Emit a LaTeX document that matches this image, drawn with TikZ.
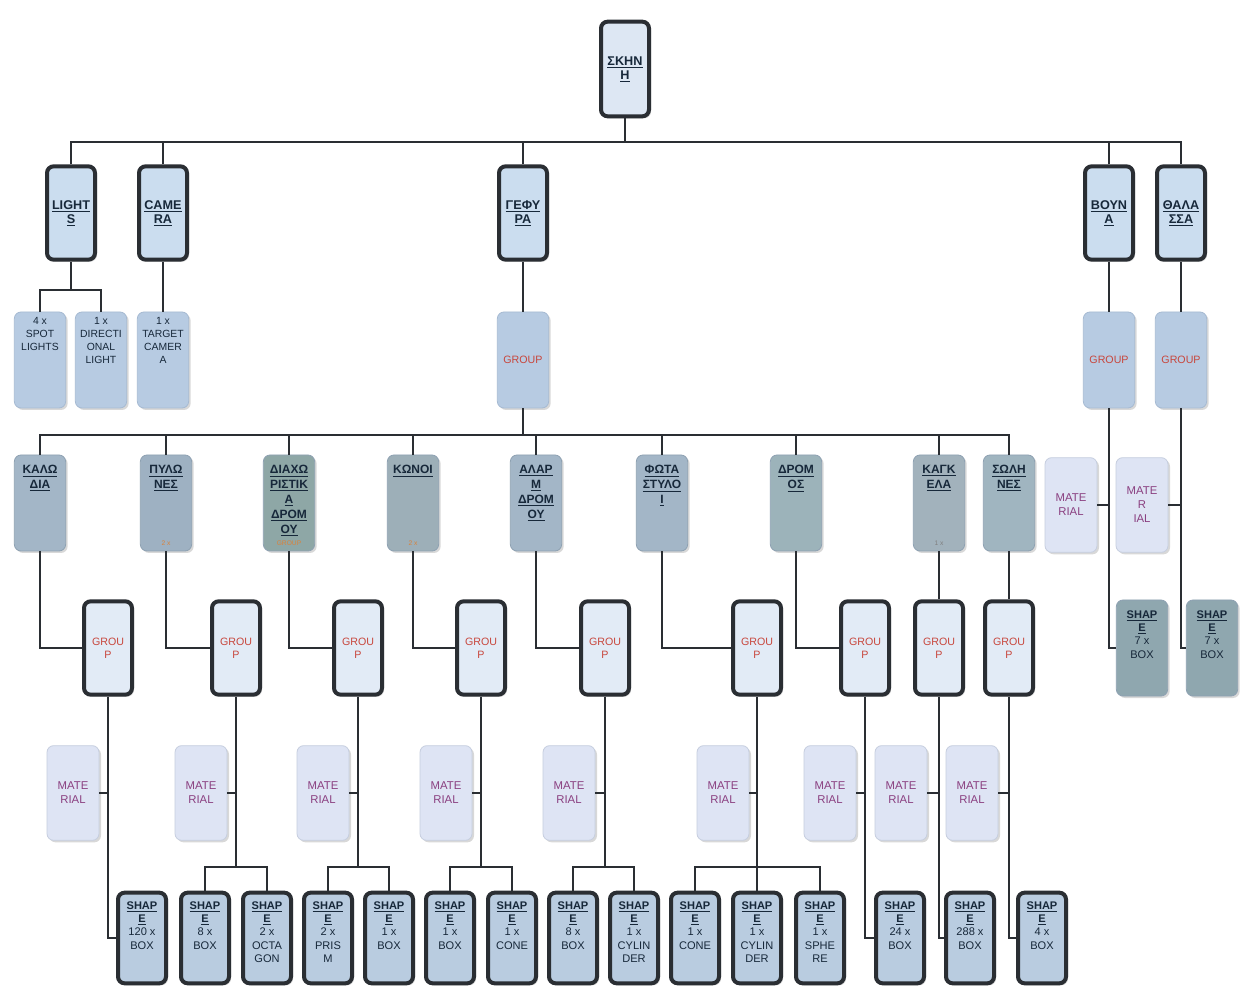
\documentclass[tikz,border=0pt]{standalone}
\usepackage{fontspec}
\setmainfont{Liberation Sans}
\usetikzlibrary{shadows}
\definecolor{ln}{HTML}{2A2E33}
\definecolor{rootfill}{HTML}{DDE7F3}
\definecolor{lone}{HTML}{CBDDEF}
\definecolor{ltwo}{HTML}{B7CBE2}
\definecolor{ltwoline}{HTML}{A6BAD2}
\definecolor{steel}{HTML}{A3B6C7}
\definecolor{steelline}{HTML}{8EA1B2}
\definecolor{steelb}{HTML}{9EB1C2}
\definecolor{steelgreen}{HTML}{8EA7A6}
\definecolor{steelc}{HTML}{9DAFB8}
\definecolor{steeld}{HTML}{9CB3BA}
\definecolor{steele}{HTML}{A2B2BC}
\definecolor{steelf}{HTML}{A0B5C0}
\definecolor{gfill}{HTML}{E2EBF6}
\definecolor{matfill}{HTML}{DEE4F4}
\definecolor{matline}{HTML}{C6CEDF}
\definecolor{shfill}{HTML}{B9CCE0}
\definecolor{rshfill}{HTML}{8FA7AF}
\definecolor{ttext}{HTML}{17283A}
\definecolor{redtext}{HTML}{C8463C}
\definecolor{orangetext}{HTML}{D9823B}
\definecolor{purpletext}{HTML}{8A3F80}
\newcommand\ttl[1]{\underline{\textbf{#1}}}
\begin{document}
\begin{tikzpicture}[x=0.75pt,y=-0.75pt,
  base/.style={rectangle, align=center, inner sep=1pt, rounded corners=5pt,
    drop shadow={shadow xshift=1.5pt, shadow yshift=-1.5pt, opacity=0.3, fill=gray}},
  thickbox/.style={base, draw=ln, line width=3pt, fill=lone, minimum width=36pt, minimum height=70pt,
    text=ttext, font=\fontsize{9.5}{10.5}\selectfont},
  gbox/.style={thickbox, fill=gfill, text=redtext, font=\fontsize{8}{9.8}\selectfont},
  shbox/.style={thickbox, fill=shfill, minimum height=68pt},
  softbox/.style={base, draw=ltwoline, line width=0.6pt, fill=ltwo, minimum width=38.5pt, minimum height=72pt},
  steelbox/.style={base, draw=steelline, line width=0.6pt, fill=steel, minimum width=38.5pt, minimum height=72pt},
  matbox/.style={base, draw=matline, line width=0.6pt, fill=matfill, minimum width=39pt, minimum height=71pt,
    text=purpletext, font=\fontsize{8.5}{10.5}\selectfont},
  toptext/.style={anchor=north, yshift=-3pt, inner sep=1pt, align=center, text=ttext},
  twotext/.style={toptext, font=\fontsize{7.8}{9.8}\selectfont},
  threetext/.style={toptext, yshift=-4pt, font=\fontsize{9}{11.2}\selectfont},
  shtext/.style={toptext, yshift=-4pt, font=\fontsize{8.3}{10}\selectfont},
  grptext/.style={text=redtext, font=\fontsize{8}{9}\selectfont},
  bottext/.style={anchor=south, yshift=3pt, inner sep=1pt, text=orangetext, font=\fontsize{5}{6}\selectfont},
  conn/.style={draw=ln, line width=2pt}]
\useasboundingbox (0,0) rectangle (1240,987);
\fill[white] (0,0) rectangle (1240,987);

% root and level 1
\node[thickbox, fill=rootfill, minimum height=71pt] (root) at (625,69) {\ttl{ΣΚΗΝ}\\\ttl{Η}};
\node[thickbox] (lights) at (71,213) {\ttl{LIGHT}\\\ttl{S}};
\node[thickbox] (camera) at (163,213) {\ttl{CAME}\\\ttl{RA}};
\node[thickbox] (gefyra) at (523,213) {\ttl{ΓΕΦΥ}\\\ttl{ΡΑ}};
\node[thickbox] (vouna) at (1109,213) {\ttl{ΒΟΥΝ}\\\ttl{Α}};
\node[thickbox] (thalassa) at (1181,213) {\ttl{ΘΑΛΑ}\\\ttl{ΣΣΑ}};

% level 2
\node[softbox, label={[twotext]north:{4 x\\SPOT\\LIGHTS}}] (spot) at (40,360) {};
\node[softbox, label={[twotext]north:{1 x\\DIRECTI\\ONAL\\LIGHT}}] (direct) at (101,360) {};
\node[softbox, label={[twotext]north:{1 x\\TARGET\\CAMER\\A}}] (target) at (163,360) {};
\node[softbox, grptext] (grpG) at (523,360) {GROUP};
\node[softbox, grptext] (grpV) at (1109,360) {GROUP};
\node[softbox, grptext] (grpT) at (1181,360) {GROUP};

% level 3
\node[steelbox, label={[threetext]north:{\ttl{ΚΑΛΩ}\\\ttl{ΔΙΑ}}}] (k1) at (40,503) {};
\node[steelbox, fill=steelb, label={[threetext]north:{\ttl{ΠΥΛΩ}\\\ttl{ΝΕΣ}}},
  label={[bottext]south:{2 x}}] (k2) at (166,503) {};
\node[steelbox, fill=steelgreen, label={[threetext]north:{\ttl{ΔΙΑΧΩ}\\\ttl{ΡΙΣΤΙΚ}\\\ttl{Α}\\\ttl{ΔΡΟΜ}\\\ttl{ΟΥ}}},
  label={[bottext]south:{GROUP}}] (k3) at (289,503) {};
\node[steelbox, fill=steelc, label={[threetext]north:{\ttl{ΚΩΝΟΙ}}},
  label={[bottext]south:{2 x}}] (k4) at (413,503) {};
\node[steelbox, label={[threetext]north:{\ttl{ΑΛΑΡ}\\\ttl{Μ}\\\ttl{ΔΡΟΜ}\\\ttl{ΟΥ}}}] (k5) at (536,503) {};
\node[steelbox, label={[threetext]north:{\ttl{ΦΩΤΑ}\\\ttl{ΣΤΥΛΟ}\\\ttl{Ι}}}] (k6) at (662,503) {};
\node[steelbox, fill=steeld, label={[threetext]north:{\ttl{ΔΡΟΜ}\\\ttl{ΟΣ}}}] (k7) at (796,503) {};
\node[steelbox, fill=steele, label={[threetext]north:{\ttl{ΚΑΓΚ}\\\ttl{ΕΛΑ}}},
  label={[bottext, text=gray]south:{1 x}}] (k8) at (939,503) {};
\node[steelbox, fill=steelf, label={[threetext]north:{\ttl{ΣΩΛΗ}\\\ttl{ΝΕΣ}}}] (k9) at (1009,503) {};

% level 4 groups
\node[gbox] (g1) at (108,648) {GROU\\P};
\node[gbox] (g2) at (236,648) {GROU\\P};
\node[gbox] (g3) at (358,648) {GROU\\P};
\node[gbox] (g4) at (481,648) {GROU\\P};
\node[gbox] (g5) at (605,648) {GROU\\P};
\node[gbox] (g6) at (757,648) {GROU\\P};
\node[gbox] (g7) at (865,648) {GROU\\P};
\node[gbox] (g8) at (939,648) {GROU\\P};
\node[gbox] (g9) at (1009,648) {GROU\\P};

% materials
\node[matbox] (m1) at (73,793) {MATE\\RIAL};
\node[matbox] (m2) at (201,793) {MATE\\RIAL};
\node[matbox] (m3) at (323,793) {MATE\\RIAL};
\node[matbox] (m4) at (446,793) {MATE\\RIAL};
\node[matbox] (m5) at (569,793) {MATE\\RIAL};
\node[matbox] (m6) at (723,793) {MATE\\RIAL};
\node[matbox] (m7) at (830,793) {MATE\\RIAL};
\node[matbox] (m8) at (901,793) {MATE\\RIAL};
\node[matbox] (m9) at (972,793) {MATE\\RIAL};
\node[matbox] (mv) at (1071,505) {MATE\\RIAL};
\node[matbox] (mt) at (1142,505) {MATE\\R\\IAL};

% right side shapes
\node[steelbox, fill=rshfill, label={[shtext]north:{\ttl{SHAP}\\\ttl{E}\\7 x\\BOX}}] (sv) at (1142,648) {};
\node[steelbox, fill=rshfill, label={[shtext]north:{\ttl{SHAP}\\\ttl{E}\\7 x\\BOX}}] (st) at (1212,648) {};

% shapes row
\node[shbox, label={[shtext]north:{\ttl{SHAP}\\\ttl{E}\\120 x\\BOX}}] (s1) at (142,938) {};
\node[shbox, label={[shtext]north:{\ttl{SHAP}\\\ttl{E}\\8 x\\BOX}}] (s2) at (205,938) {};
\node[shbox, label={[shtext]north:{\ttl{SHAP}\\\ttl{E}\\2 x\\OCTA\\GON}}] (s3) at (267,938) {};
\node[shbox, label={[shtext]north:{\ttl{SHAP}\\\ttl{E}\\2 x\\PRIS\\M}}] (s4) at (328,938) {};
\node[shbox, label={[shtext]north:{\ttl{SHAP}\\\ttl{E}\\1 x\\BOX}}] (s5) at (389,938) {};
\node[shbox, label={[shtext]north:{\ttl{SHAP}\\\ttl{E}\\1 x\\BOX}}] (s6) at (450,938) {};
\node[shbox, label={[shtext]north:{\ttl{SHAP}\\\ttl{E}\\1 x\\CONE}}] (s7) at (512,938) {};
\node[shbox, label={[shtext]north:{\ttl{SHAP}\\\ttl{E}\\8 x\\BOX}}] (s8) at (573,938) {};
\node[shbox, label={[shtext]north:{\ttl{SHAP}\\\ttl{E}\\1 x\\CYLIN\\DER}}] (s9) at (634,938) {};
\node[shbox, label={[shtext]north:{\ttl{SHAP}\\\ttl{E}\\1 x\\CONE}}] (s10) at (695,938) {};
\node[shbox, label={[shtext]north:{\ttl{SHAP}\\\ttl{E}\\1 x\\CYLIN\\DER}}] (s11) at (757,938) {};
\node[shbox, label={[shtext]north:{\ttl{SHAP}\\\ttl{E}\\1 x\\SPHE\\RE}}] (s12) at (820,938) {};
\node[shbox, label={[shtext]north:{\ttl{SHAP}\\\ttl{E}\\24 x\\BOX}}] (s13) at (900,938) {};
\node[shbox, label={[shtext]north:{\ttl{SHAP}\\\ttl{E}\\288 x\\BOX}}] (s14) at (970,938) {};
\node[shbox, label={[shtext]north:{\ttl{SHAP}\\\ttl{E}\\4 x\\BOX}}] (s15) at (1042,938) {};

% connectors
\coordinate (busA) at (0,142);
\coordinate (busB) at (0,290);
\coordinate (busC) at (0,435);
\coordinate (busD) at (0,867);
\draw[conn] (root.south) -- (root.south |- busA);
\draw[conn] (lights.north) -- (lights.north |- busA) -- (thalassa.north |- busA) -- (thalassa.north);
\foreach \n in {camera,gefyra,vouna} \draw[conn] (\n.north) -- (\n.north |- busA);

\draw[conn] (lights.south) -- (lights.south |- busB);
\draw[conn] (spot.north) -- (spot.north |- busB) -- (direct.north |- busB) -- (direct.north);
\draw[conn] (camera.south) -- (target.north);
\draw[conn] (gefyra.south) -- (grpG.north);
\draw[conn] (vouna.south) -- (grpV.north);
\draw[conn] (thalassa.south) -- (grpT.north);

\draw[conn] (grpG.south) -- (grpG.south |- busC);
\draw[conn] (k1.north) -- (k1.north |- busC) -- (k9.north |- busC) -- (k9.north);
\foreach \n in {k2,k3,k4,k5,k6,k7,k8} \draw[conn] (\n.north) -- (\n.north |- busC);

\foreach \a/\b in {k1/g1,k2/g2,k3/g3,k4/g4,k5/g5,k6/g6,k7/g7} \draw[conn] (\a.south) |- (\b.west);
\draw[conn] (k8.south) -- (g8.north);
\draw[conn] (k9.south) -- (g9.north);

\foreach \m/\g in {m1/g1,m2/g2,m3/g3,m4/g4,m5/g5,m6/g6,m7/g7,m8/g8,m9/g9,mv/grpV,mt/grpT}
  \draw[conn] (\m.east) -- (\m.east -| \g.south);

\draw[conn] (grpV.south) |- (sv.west);
\draw[conn] (grpT.south) |- (st.west);

\draw[conn] (g1.south) |- (s1.west);
\draw[conn] (g7.south) |- (s13.west);
\draw[conn] (g8.south) |- (s14.west);
\draw[conn] (g9.south) |- (s15.west);

\foreach \g/\l/\r in {g2/s2/s3,g3/s4/s5,g4/s6/s7,g5/s8/s9,g6/s10/s12} {
  \draw[conn] (\g.south) -- (\g.south |- busD);
  \draw[conn] (\l.north) -- (\l.north |- busD) -- (\r.north |- busD) -- (\r.north);
}
\draw[conn] (s11.north) -- (s11.north |- busD);
\end{tikzpicture}
\end{document}
